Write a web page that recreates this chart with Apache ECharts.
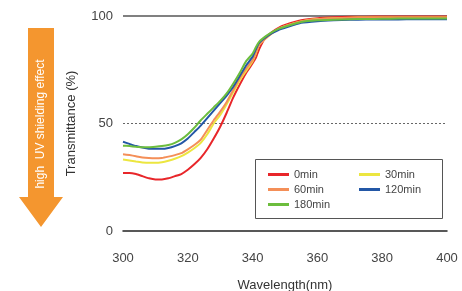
<!DOCTYPE html>
<html lang="en">
<head>
    <meta charset="UTF-8">
    <title>Transmittance</title>
    <script src="https://cdn.jsdelivr.net/npm/echarts@6/dist/echarts.min.js"></script>
    <style>
        html, body { margin: 0; padding: 0; background: #fff; }
        #chart { width: 462px; height: 291px; }
    </style>
</head>
<body>
<div id="chart"></div>
<script type="text/javascript">
    var wavelengths = [300, 302, 304, 306, 308, 310, 312, 314, 316, 318, 320, 322, 324, 326, 328, 330,
                       332, 334, 336, 338, 340, 341, 342, 344, 346, 348, 350, 355, 360, 365, 370, 375,
                       380, 385, 390, 395, 400];
    var t0   = [27, 27, 26.5, 25.5, 24.5, 24, 24, 24.5, 25.5, 26.5, 28.5, 31, 34, 38, 43, 48.5,
                55, 62, 68, 73.5, 78, 80.5, 84.5, 90, 92.5, 94.5, 95.8, 98, 99, 99.4, 99.6, 99.7,
                99.8, 99.8, 99.8, 99.8, 99.8];
    var t30  = [33.3, 32.8, 32.3, 31.9, 31.7, 31.7, 32, 32.7, 33.6, 34.8, 36.5, 38.5, 41, 45, 50, 54,
                59, 64.5, 70, 74.5, 79, 82.5, 86.5, 89.5, 92, 94, 95.3, 97.5, 98.6, 99, 99.2, 99.3,
                99.3, 99.3, 99.3, 99.3, 99.3];
    var t60  = [35.7, 35.3, 34.8, 34.2, 33.9, 33.8, 34, 34.6, 35.3, 36.2, 38, 40, 42.5, 47, 51.5, 55.5,
                60, 65.5, 71, 75.5, 79.5, 83, 86.5, 89.5, 92, 94, 95.3, 97.5, 98.5, 99, 99.1, 99.2,
                99.2, 99.2, 99.2, 99.2, 99.2];
    var t120 = [41.5, 40.5, 39.5, 38.8, 38.3, 38.2, 38.2, 38.6, 39.5, 40.8, 43, 46, 49, 52.5, 56, 59.5,
                63, 67, 72, 77, 81, 84.5, 87.5, 90, 92, 93.5, 94.5, 96.8, 97.6, 98, 98.2, 98.4,
                98.4, 98.4, 98.5, 98.5, 98.5];
    var t180 = [39.7, 39.5, 39.2, 39, 39, 39.2, 39.5, 40, 41, 42.6, 45, 48, 51.5, 54.5, 57.5, 60.5,
                64, 68.5, 73.5, 79, 82.5, 85.5, 88, 90.5, 92.5, 94, 95, 97.2, 98, 98.3, 98.5, 98.6,
                98.7, 98.8, 98.8, 98.8, 98.8];
    var seriesNames = ['0min', '30min', '60min', '120min', '180min'];
    var seriesValues = [t0, t30, t60, t120, t180];
    var seriesColors = ['#e8262a', '#ece640', '#f48f58', '#2357a6', '#6cbd3d'];

    var font = '"Liberation Sans", Arial, sans-serif';

    function pairs(vals) {
        var out = [];
        for (var i = 0; i < wavelengths.length; i++) {
            out.push([wavelengths[i], vals[i]]);
        }
        return out;
    }

    var series = [];
    for (var i = 0; i < seriesNames.length; i++) {
        series.push({
            name: seriesNames[i],
            type: 'line',
            data: pairs(seriesValues[i]),
            showSymbol: false,
            smooth: 0.15,
            lineStyle: { width: 2, color: seriesColors[i] },
            itemStyle: { color: seriesColors[i] },
            z: 3 + i
        });
    }
    // reference lines at 50 (dotted) and 100 (solid)
    series[0].markLine = {
        silent: true,
        symbol: 'none',
        label: { show: false },
        z: 1,
        data: [
            { yAxis: 50, lineStyle: { type: [2, 2], color: '#666', width: 1 } },
            { yAxis: 100, lineStyle: { type: 'solid', color: '#808080', width: 2 } }
        ]
    };

    var myChart = echarts.init(document.getElementById('chart'));
    var option = {
        animation: false,
        textStyle: { fontFamily: font },
        grid: { left: 123, right: 15, top: 16, bottom: 60, containLabel: false, outerBoundsMode: 'none' },
        xAxis: {
            type: 'value',
            min: 300, max: 400, interval: 20,
            name: 'Wavelength(nm)',
            nameLocation: 'middle',
            nameGap: 48,
            nameTextStyle: { fontSize: 13, color: '#333', fontFamily: font },
            axisLine: { lineStyle: { color: '#222', width: 1.5 } },
            axisTick: { show: false },
            axisLabel: { fontSize: 13, color: '#444', margin: 21, fontFamily: font },
            splitLine: { show: false }
        },
        yAxis: {
            type: 'value',
            min: 0, max: 100, interval: 50,
            name: 'Transmittance (%)',
            nameLocation: 'middle',
            nameRotate: 90,
            nameGap: 45,
            nameTextStyle: { fontSize: 13, color: '#333', fontFamily: font },
            axisLine: { show: false },
            axisTick: { show: false },
            axisLabel: { fontSize: 13, color: '#444', margin: 10, fontFamily: font },
            splitLine: { show: false }
        },
        legend: [
            {
                data: ['0min', '60min', '180min'],
                orient: 'vertical',
                left: 263, top: 164,
                itemGap: 4,
                icon: 'rect', itemWidth: 21, itemHeight: 3,
                textStyle: { fontSize: 11, color: '#444', fontFamily: font }
            },
            {
                data: ['30min', '120min'],
                orient: 'vertical',
                left: 354, top: 164,
                itemGap: 4,
                icon: 'rect', itemWidth: 21, itemHeight: 3,
                textStyle: { fontSize: 11, color: '#444', fontFamily: font }
            }
        ],
        graphic: [
            {
                type: 'rect',
                shape: { x: 255.5, y: 159.5, width: 187, height: 59 },
                style: { fill: 'none', stroke: '#555', lineWidth: 1 },
                z: 10
            },
            {
                type: 'polygon',
                shape: { points: [[28, 28], [54, 28], [54, 197], [63, 197], [41, 227], [19, 197], [28, 197]] },
                style: { fill: '#f4962f' }
            },
            {
                type: 'text',
                x: 41, y: 124,
                rotation: Math.PI / 2,
                style: {
                    text: 'high  UV shielding effect',
                    fill: '#fff',
                    font: '12px ' + font,
                    align: 'center',
                    verticalAlign: 'middle'
                },
                z: 11
            }
        ],
        series: series
    };
    myChart.setOption(option);
</script>
</body>
</html>
